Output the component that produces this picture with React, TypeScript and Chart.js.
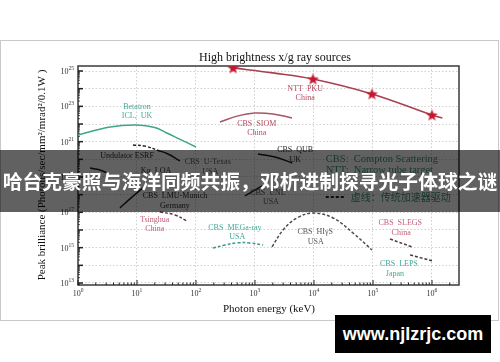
import React, { useEffect, useRef } from 'react';
import { Chart, registerables } from 'chart.js';

Chart.register(...registerables);

// ---------- data (photon energy in keV, peak brilliance) ----------
const nttX = [425, 2000, 9600, 9.6e4, 1.0e6, 1.5e6];
const nttY = [1.5e25, 7.8e24, 3.5e24, 5.0e23, 3.2e22, 2.2e22];
const nttStarIdx = [0, 2, 3, 4];
const betatronX = [1, 3.5, 10, 20, 32, 56, 100];
const betatronY = [2.4e21, 6.8e21, 8.7e21, 6.3e21, 3.1e21, 1.26e21, 5.0e20];
const siomX = [255, 495, 1000, 2020, 4240];
const siomY = [1.29e22, 2.8e22, 4.2e22, 3.7e22, 2.2e22];
const esrfX = [8.55, 13.7, 21.8];
const esrfY = [6.5e20, 5.6e20, 3.4e20];
const uTexasX = [21.8, 33.5, 53.6];
const uTexasY = [3.4e20, 2.0e20, 8.1e19];
const kaLoaX = [1.6, 2.36, 3.1];
const kaLoaY = [3.2e19, 2.5e19, 1.7e19];
const lmuX = [5.15, 7.6, 12.6];
const lmuY = [1.8e17, 5.8e17, 2.4e18];
const qubX = [1122, 2190, 4270];
const qubY = [2.0e20, 1.35e20, 6.2e19];
const unlX = [676, 1320];
const unlY = [8.5e17, 3.1e18];
const tsinghuaX = [24.5, 44, 70];
const tsinghuaY = [1.05e17, 7.1e16, 3.2e16];
const megaX = [194, 310, 495, 822, 1370];
const megaY = [9.5e14, 1.4e15, 1.86e15, 1.86e15, 1.4e15];
const higsX = [1940, 2990, 5150, 9620, 2.1e4, 4.58e4, 9.62e4];
const higsY = [1.1e15, 1.0e16, 4.8e16, 9.1e16, 4.8e16, 6.8e15, 7.4e14];
const slegsX = [1.94e5, 4.58e5];
const slegsY = [3.1e15, 1.1e15];
const lepsX = [4.24e5, 1.0e6];
const lepsY = [3.9e14, 1.8e14];

// source labels anchored at data coordinates
const labelTexts = [
  'NTT  PKU', 'China', 'Betatron', 'ICL,  UK', 'CBS  SIOM', 'China',
  'CBS  QUB', 'UK', 'Undulator ESRF', 'CBS  U-Texas', 'USA', 'Kα  LOA',
  'CBS  LMU-Munich', 'Germany', 'CBS  UNL', 'USA', 'Tsinghua', 'China',
  'CBS  MEGa-ray', 'USA', 'CBS  HIγS', 'USA', 'CBS  SLEGS', 'China',
  'CBS  LEPS', 'Japan',
];
const labelX = [
  7080, 7080, 10, 10, 1070, 1070,
  4800, 4800, 6.8, 158, 174, 21,
  44, 44, 1660, 1860, 20, 20,
  457, 500, 10470, 10700, 2.9e5, 3.0e5,
  2.75e5, 2.35e5,
];
const labelY = [
  9.5e23, 3.0e23, 9.1e22, 2.8e22, 1.0e22, 3.1e21,
  3.4e20, 9.1e19, 1.55e20, 7.1e19, 1.9e19, 2.2e19,
  8.5e17, 2.3e17, 1.2e18, 3.9e17, 3.7e16, 1.15e16,
  1.3e16, 4.1e15, 7.8e15, 2.1e15, 2.5e16, 6.8e15,
  1.2e14, 3.2e13,
];
const legendLines = ['CBS:  Compton Scattering', 'NTT:  Narrow tube target', '虚线：传统加速器驱动'];
const legendX = 15850;
const legendY = [1.05e20, 2.5e19, 7.4e17];

const xTickExps = [0, 1, 2, 3, 4, 5, 6];
const yTickExps = [13, 15, 17, 19, 21, 23, 25];
const xMin = 1;
const xMax = 2.87e6;
const yMin = 7.7e12;
const yMax = 1.92e25;

const titleText = 'High brightness x/g ray sources';
const xTitle = 'Photon energy (keV)';
const yTitle = 'Peak brilliance (Photons/sec/mm²/mrad²/0.1W )';
const bannerText = '哈台克豪照与海洋同频共振，邓析进制探寻光子体球之谜';
const watermarkText = 'www.njlzrjc.com';

// ---------- styles ----------
const RED = '#b8485c';
const TEAL = '#45a898';
const DARK = '#2a2a2a';
const GRAY = '#5a5a5a';
const PINK = '#c0607a';
const labelTone = [
  RED, RED, TEAL, TEAL, RED, RED,
  DARK, DARK, DARK, GRAY, GRAY, DARK,
  DARK, DARK, GRAY, GRAY, PINK, PINK,
  TEAL, TEAL, GRAY, GRAY, PINK, PINK,
  TEAL, TEAL,
];
const SERIF = "'Liberation Serif', 'DejaVu Serif', serif";

const pts = (xs: number[], ys: number[]) => xs.map((x, i) => ({ x, y: ys[i] }));

const makeStar = () => {
  const c = document.createElement('canvas');
  c.width = 13;
  c.height = 13;
  const g = c.getContext('2d')!;
  g.fillStyle = '#c4162e';
  g.beginPath();
  for (let i = 0; i < 10; i++) {
    const r = i % 2 === 0 ? 6.2 : 2.6;
    const ang = -Math.PI / 2 + (i * Math.PI) / 5;
    const px = 6.5 + r * Math.cos(ang);
    const py = 6.9 + r * Math.sin(ang);
    if (i === 0) g.moveTo(px, py);
    else g.lineTo(px, py);
  }
  g.closePath();
  g.fill();
  return c;
};

const isInt = (v: number) => {
  const e = Math.floor(Math.log10(v) + 1e-9);
  const m = v / Math.pow(10, e);
  return { ok: Math.abs(m - Math.round(m)) < 1e-6, major: Math.abs(m - 1) < 1e-6 };
};

const drawPow = (ctx: CanvasRenderingContext2D, exp: number, x: number, y: number, align: 'center' | 'right') => {
  ctx.font = `8px ${SERIF}`;
  const w10 = ctx.measureText('10').width;
  ctx.font = `5.5px ${SERIF}`;
  const es = String(exp);
  const we = ctx.measureText(es).width;
  const total = w10 + we;
  const start = align === 'center' ? x - total / 2 : x - total;
  ctx.textAlign = 'left';
  ctx.textBaseline = 'middle';
  ctx.fillStyle = '#333';
  ctx.font = `8px ${SERIF}`;
  ctx.fillText('10', start, y);
  ctx.font = `5.5px ${SERIF}`;
  ctx.fillText(es, start + w10, y - 3.5);
};

const annotPlugin = {
  id: 'annot',
  beforeDraw(chart: any) {
    const { ctx } = chart;
    ctx.save();
    ctx.fillStyle = '#ffffff';
    ctx.fillRect(0, 0, chart.width, chart.height);
    ctx.strokeStyle = '#c9c9c9';
    ctx.lineWidth = 1;
    ctx.strokeRect(0.5, 40.5, 498, 280);
    ctx.restore();
  },
  beforeDatasetsDraw(chart: any) {
    const { ctx, chartArea: a, scales } = chart;
    ctx.save();
    ctx.strokeStyle = '#3a3a3a';
    ctx.lineWidth = 1.5;
    ctx.strokeRect(a.left, a.top, a.right - a.left, a.bottom - a.top);
    ctx.lineWidth = 1;
    ctx.strokeStyle = '#222';
    for (const t of scales.x.ticks) {
      const r = isInt(t.value);
      if (!r.ok) continue;
      const p = scales.x.getPixelForValue(t.value);
      const len = r.major ? 5 : 2.5;
      ctx.beginPath();
      ctx.moveTo(p, a.bottom);
      ctx.lineTo(p, a.bottom - len);
      ctx.stroke();
    }
    for (const t of scales.y.ticks) {
      const r = isInt(t.value);
      if (!r.ok) continue;
      const p = scales.y.getPixelForValue(t.value);
      const len = r.major ? 5 : 2;
      ctx.lineWidth = r.major ? 1.5 : 0.8;
      ctx.beginPath();
      ctx.moveTo(a.left, p);
      ctx.lineTo(a.left + len, p);
      ctx.stroke();
    }
    // tick labels
    for (const e of xTickExps) {
      drawPow(ctx, e, scales.x.getPixelForValue(Math.pow(10, e)), a.bottom + 9, 'center');
    }
    for (const e of yTickExps) {
      drawPow(ctx, e, a.left - 4, scales.y.getPixelForValue(Math.pow(10, e)) + 1, 'right');
    }
    // titles
    ctx.fillStyle = '#111';
    ctx.textAlign = 'center';
    ctx.textBaseline = 'middle';
    ctx.font = `12px ${SERIF}`;
    ctx.fillText(titleText, 275, 58);
    ctx.font = `11px ${SERIF}`;
    ctx.fillText(xTitle, 269, a.bottom + 24);
    ctx.save();
    ctx.translate(42, (a.top + a.bottom) / 2 - 0.5);
    ctx.rotate(-Math.PI / 2);
    ctx.fillText(yTitle, 0, 0);
    ctx.restore();
    ctx.restore();
  },
  afterDatasetsDraw(chart: any) {
    const { ctx, scales } = chart;
    ctx.save();
    ctx.textAlign = 'center';
    ctx.textBaseline = 'middle';
    ctx.font = `8px ${SERIF}`;
    labelTexts.forEach((t, i) => {
      ctx.fillStyle = labelTone[i];
      ctx.fillText(t, scales.x.getPixelForValue(labelX[i]), scales.y.getPixelForValue(labelY[i]));
    });
    // legend notes
    const lx = scales.x.getPixelForValue(legendX);
    ctx.textAlign = 'left';
    ctx.fillStyle = '#3d9470';
    ctx.font = `10.5px ${SERIF}`;
    ctx.fillText(legendLines[0], lx, scales.y.getPixelForValue(legendY[0]));
    ctx.fillText(legendLines[1], lx, scales.y.getPixelForValue(legendY[1]));
    const y3 = scales.y.getPixelForValue(legendY[2]);
    ctx.strokeStyle = '#222';
    ctx.lineWidth = 2;
    ctx.setLineDash([3, 2]);
    ctx.beginPath();
    ctx.moveTo(lx, y3);
    ctx.lineTo(lx + 20, y3);
    ctx.stroke();
    ctx.setLineDash([]);
    ctx.font = `10px 'Noto Sans CJK SC', sans-serif`;
    ctx.fillText(legendLines[2], lx + 25, y3);
    ctx.restore();
  },
};

const line = (label: string, xs: number[], ys: number[], color: string, dash: number[] = [], width = 1.5) => ({
  label,
  data: pts(xs, ys),
  borderColor: color,
  borderWidth: width,
  borderDash: dash,
  pointRadius: 0,
  tension: 0.4,
  fill: false,
});

export default function App() {
  const ref = useRef<HTMLCanvasElement>(null);
  useEffect(() => {
    if (!ref.current) return;
    document.body.style.margin = '0';
    const star = makeStar();
    const nttSet: any = line('NTT PKU', nttX, nttY, '#a8404f', [], 1.6);
    nttSet.pointStyle = star;
    nttSet.pointRadius = nttX.map((_, i) => (nttStarIdx.includes(i) ? 5 : 0));
    const chart = new Chart(ref.current, {
      type: 'line',
      data: {
        datasets: [
          line('Betatron ICL', betatronX, betatronY, '#3fa58a'),
          line('CBS SIOM', siomX, siomY, '#a85565'),
          line('Undulator ESRF', esrfX, esrfY, '#1e1e1e', [3, 2]),
          line('CBS U-Texas', uTexasX, uTexasY, '#1e1e1e'),
          line('Ka LOA', kaLoaX, kaLoaY, '#1e1e1e'),
          line('CBS LMU-Munich', lmuX, lmuY, '#1e1e1e'),
          line('CBS QUB', qubX, qubY, '#1e1e1e'),
          line('CBS UNL', unlX, unlY, '#1e1e1e'),
          line('Tsinghua', tsinghuaX, tsinghuaY, '#5a3a46', [3, 2]),
          line('CBS MEGa-ray', megaX, megaY, '#3a9a8a', [3, 2]),
          line('CBS HIgS', higsX, higsY, '#4a4a4a', [3, 2]),
          line('CBS SLEGS', slegsX, slegsY, '#5a3a46', [3, 2]),
          line('CBS LEPS', lepsX, lepsY, '#3a3a3a', [3, 2]),
          nttSet,
        ],
      },
      options: {
        responsive: false,
        animation: false,
        devicePixelRatio: 1,
        layout: { padding: { left: 0, top: 66, right: 41, bottom: 57 } },
        plugins: { legend: { display: false }, title: { display: false }, tooltip: { enabled: false } },
        scales: {
          x: {
            type: 'logarithmic',
            min: xMin,
            max: xMax,
            ticks: { display: false, autoSkip: false },
            grid: {
              drawTicks: false,
              lineWidth: 1,
              color: (c: any) => (c.tick && isInt(c.tick.value).major ? '#cfcfcf' : 'rgba(0,0,0,0)'),
            },
            border: { display: false, dash: [1.5, 2] },
            afterFit: (s: any) => { s.height = 20; },
          },
          y: {
            type: 'logarithmic',
            min: yMin,
            max: yMax,
            ticks: { display: false, autoSkip: false },
            grid: {
              drawTicks: false,
              lineWidth: 1,
              color: (c: any) => (c.tick && isInt(c.tick.value).major ? '#cfcfcf' : 'rgba(0,0,0,0)'),
            },
            border: { display: false, dash: [1.5, 2] },
            afterFit: (s: any) => { s.width = 78; },
          },
        },
      },
      plugins: [annotPlugin],
    });
    return () => chart.destroy();
  }, []);

  return (
    <div style={{ position: 'absolute', left: 0, top: 0, width: 500, height: 362, background: '#fff', overflow: 'hidden' }}>
      <canvas ref={ref} width={500} height={362} style={{ display: 'block', width: 500, height: 362 }} />
      <div
        style={{
          position: 'absolute', left: 0, top: 150, width: 500, height: 62,
          background: 'rgba(0,0,0,0.62)', color: '#fff', textAlign: 'center',
          font: "bold 19.8px 'Noto Sans CJK SC', sans-serif", lineHeight: '62px', whiteSpace: 'nowrap',
        }}
      >
        {bannerText}
      </div>
      <div
        style={{
          position: 'absolute', left: 335, top: 315, width: 156, height: 38,
          background: '#000', color: '#fff', textAlign: 'center',
          font: "bold 18px 'Liberation Sans', Arial, sans-serif", lineHeight: '38px', whiteSpace: 'nowrap',
        }}
      >
        {watermarkText}
      </div>
    </div>
  );
}
